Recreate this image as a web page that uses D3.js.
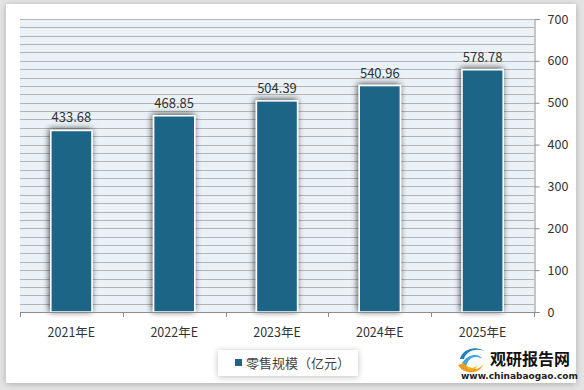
<!DOCTYPE html>
<html>
<head>
<meta charset="utf-8">
<script src="https://cdn.jsdelivr.net/npm/d3@7"></script>
<style>
  body { margin: 0; background: #e4e4e4; }
  svg { display: block; font-family: "Noto Sans CJK SC", "Liberation Sans", sans-serif; }
</style>
</head>
<body>
<svg id="chart" width="584" height="390"></svg>
<script>
// data
var years = ["2021年E", "2022年E", "2023年E", "2024年E", "2025年E"];
var retail = [433.68, 468.85, 504.39, 540.96, 578.78];
var yTicks = [0, 100, 200, 300, 400, 500, 600, 700];
var seriesName = "零售规模（亿元）";

var svg = d3.select("#chart");
var defs = svg.append("defs");

// soft shadow for bars
var f = defs.append("filter").attr("id", "shade")
  .attr("x", "-40%").attr("y", "-20%").attr("width", "180%").attr("height", "140%");
f.append("feGaussianBlur").attr("in", "SourceAlpha").attr("stdDeviation", 3).attr("result", "b");
f.append("feOffset").attr("in", "b").attr("dx", -1).attr("dy", -1).attr("result", "o");
f.append("feComponentTransfer").attr("in", "o").attr("result", "s")
  .append("feFuncA").attr("type", "linear").attr("slope", 0.7);
var m = f.append("feMerge");
m.append("feMergeNode").attr("in", "s");
m.append("feMergeNode").attr("in", "SourceGraphic");

// frame / legend shadow
var f2 = defs.append("filter").attr("id", "boxshade")
  .attr("x", "-10%").attr("y", "-30%").attr("width", "120%").attr("height", "160%");
f2.append("feDropShadow").attr("dx", 0).attr("dy", 1).attr("stdDeviation", 3)
  .attr("flood-color", "#000").attr("flood-opacity", 0.25);

// white chart frame
svg.append("rect").attr("x", 6).attr("y", 4).attr("width", 570).attr("height", 379)
  .attr("fill", "#fff").attr("filter", "url(#boxshade)");

var plotL = 20, plotR = 534, plotT = 19, plotB = 312;

var x = d3.scaleBand().domain(years).range([plotL, plotR]).paddingInner(0.6).paddingOuter(0.3);
var y = d3.scaleLinear().domain([0, 700]).range([plotB, plotT]);

// plot background
svg.append("rect").attr("x", plotL).attr("y", plotT)
  .attr("width", plotR - plotL).attr("height", plotB - plotT).attr("fill", "#eaf1f7");

// minor grid every 20
svg.append("g").selectAll("line")
  .data(d3.range(20, 701, 20))
  .join("line")
  .attr("x1", plotL).attr("x2", plotR)
  .attr("y1", d => Math.round(y(d)) + 0.5).attr("y2", d => Math.round(y(d)) + 0.5)
  .attr("stroke", "#b4b4b4").attr("stroke-width", 1.2);

// bars
svg.append("g").selectAll("rect")
  .data(retail)
  .join("rect")
  .attr("x", (d, i) => x(years[i]))
  .attr("y", d => y(d))
  .attr("width", x.bandwidth())
  .attr("height", d => plotB - y(d))
  .attr("fill", "#1b6586")
  .attr("stroke", "#fff").attr("stroke-width", 1.5)
  .attr("filter", "url(#shade)");

// value labels
svg.append("g").selectAll("text")
  .data(retail)
  .join("text")
  .attr("x", (d, i) => x(years[i]) + x.bandwidth() / 2)
  .attr("y", d => y(d) - 8)
  .attr("text-anchor", "middle")
  .attr("font-size", 13).attr("fill", "#333")
  .text(d => d.toFixed(2));

// bottom axis
var xEdge = d3.scaleLinear().domain([0, years.length]).range([plotL, plotR]);
var gx = svg.append("g");
gx.append("line").attr("x1", plotL).attr("x2", plotR).attr("y1", plotB + 0.5).attr("y2", plotB + 0.5)
  .attr("stroke", "#8c8c8c");
gx.selectAll("line.t").data(d3.range(0, years.length + 1)).join("line").attr("class", "t")
  .attr("x1", d => Math.round(xEdge(d)) + 0.5).attr("x2", d => Math.round(xEdge(d)) + 0.5)
  .attr("y1", plotB).attr("y2", plotB + 5).attr("stroke", "#8c8c8c");
gx.selectAll("text").data(years).join("text")
  .attr("x", d => x(d) + x.bandwidth() / 2).attr("y", 337)
  .attr("text-anchor", "middle").attr("font-size", 12.5).attr("fill", "#333")
  .text(d => d);

// right axis
var gy = svg.append("g").attr("transform", "translate(" + (plotR + 0.5) + ",0)")
  .call(d3.axisRight(y).tickValues(yTicks).tickSize(5).tickPadding(8));
gy.select(".domain").attr("stroke", "#8c8c8c");
gy.selectAll(".tick line").attr("stroke", "#8c8c8c");
gy.selectAll(".tick text").attr("font-size", 12.5).attr("fill", "#333")
  .attr("font-family", "'Noto Sans CJK SC', sans-serif").attr("text-anchor", "start");

// legend
var lg = svg.append("g");
lg.append("rect").attr("x", 218).attr("y", 350).attr("width", 140).attr("height", 26)
  .attr("fill", "#fff").attr("filter", "url(#boxshade)");
lg.append("rect").attr("x", 235).attr("y", 359).attr("width", 7).attr("height", 7).attr("fill", "#1b6586");
lg.append("text").attr("x", 246).attr("y", 368).attr("font-size", 13).attr("fill", "#444")
  .text(seriesName);

// watermark logo
var logo = svg.append("g").attr("transform", "translate(458,349)");
logo.append("path").attr("d", "M2,10 C4,0 18,-4 26,2 C18,-1 8,2 6,10 Z").attr("fill", "#1f7fc0");
logo.append("path").attr("d", "M4,14 C10,4 22,4 24,10 C18,6 10,8 8,18 Z").attr("fill", "#41a6e0");
logo.append("path").attr("d", "M0,16 C6,26 22,26 26,14 C22,22 10,22 6,14 Z").attr("fill", "#f29a1f");
logo.append("path").attr("d", "M8,16 C12,20 18,20 20,14 C18,24 8,22 8,16 Z").attr("fill", "#f6b21c");
svg.append("text").attr("x", 490).attr("y", 365).attr("font-size", 16).attr("font-weight", "bold")
  .attr("fill", "#111").text("观研报告网");
svg.append("text").attr("x", 461).attr("y", 379).attr("font-size", 9).attr("font-weight", "bold")
  .attr("font-family", "'DejaVu Sans', sans-serif")
  .attr("fill", "#222").text("www.chinabaogao.com");
</script>
</body>
</html>
